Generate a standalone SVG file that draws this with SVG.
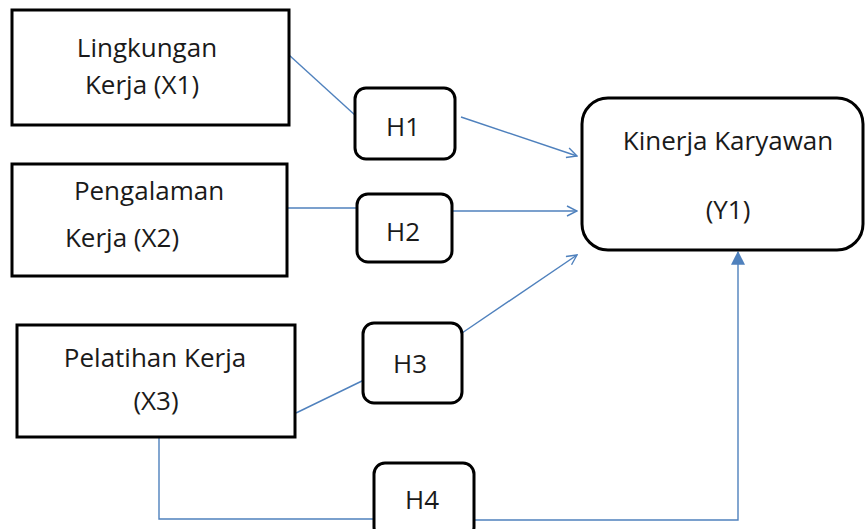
<svg xmlns="http://www.w3.org/2000/svg" width="865" height="529" viewBox="0 0 865 529">
<style>
.box{fill:#fff;stroke:#000;stroke-width:3}
.lbl{font-family:"Open Sans","Liberation Sans",sans-serif;font-size:26px;fill:#1a1a1a;text-anchor:middle}
.con{fill:none;stroke:#4F81BD;stroke-width:1.4}
</style>
<defs>
<marker id="open" viewBox="0 0 12 12" refX="11" refY="6" markerWidth="12" markerHeight="12" markerUnits="userSpaceOnUse" orient="auto">
<path d="M1,1 L11,6 L1,11" fill="none" stroke="#4F81BD" stroke-width="1.4"/>
</marker>
<marker id="fill" viewBox="0 0 12 12" refX="11" refY="6" markerWidth="14" markerHeight="14" markerUnits="userSpaceOnUse" orient="auto">
<path d="M0,0 L12,6 L0,12 Z" fill="#4F81BD"/>
</marker>
</defs>
<g id="connectors">
<line class="con" x1="289" y1="55" x2="356" y2="116"/>
<line class="con" x1="282" y1="208" x2="358" y2="208"/>
<line class="con" x1="296" y1="413" x2="364" y2="380"/>
<polyline class="con" points="159,437 159,519 375,519"/>
<line class="con" x1="461" y1="117" x2="577" y2="156" marker-end="url(#open)"/>
<line class="con" x1="453" y1="211" x2="577" y2="211" marker-end="url(#open)"/>
<line class="con" x1="462" y1="333" x2="577" y2="255" marker-end="url(#open)"/>
<polyline class="con" points="474,520 738,520 738,252" marker-end="url(#fill)"/>
</g>
<g id="x1"><rect class="box" x="12" y="10" width="277" height="115"/>
<text class="lbl" x="147" y="57">Lingkungan</text>
<text class="lbl" x="142" y="94">Kerja (X1)</text></g>
<g id="x2"><rect class="box" x="12" y="164" width="275" height="112"/>
<text class="lbl" x="149" y="200">Pengalaman</text>
<text class="lbl" x="122" y="247">Kerja (X2)</text></g>
<g id="x3"><rect class="box" x="17" y="325" width="278" height="112"/>
<text class="lbl" x="155" y="367">Pelatihan Kerja</text>
<text class="lbl" x="156" y="410">(X3)</text></g>
<g id="h1"><rect class="box" x="355" y="88" width="100" height="71" rx="11"/>
<text class="lbl" x="403" y="136">H1</text></g>
<g id="h2"><rect class="box" x="357" y="194" width="95" height="68" rx="11"/>
<text class="lbl" x="403" y="241">H2</text></g>
<g id="h3"><rect class="box" x="363" y="323" width="99" height="80" rx="11"/>
<text class="lbl" x="410" y="373">H3</text></g>
<g id="h4"><rect class="box" x="374" y="463" width="100" height="75" rx="11"/>
<text class="lbl" x="422" y="509">H4</text></g>
<g id="y1"><rect class="box" x="582" y="98" width="281" height="152" rx="26"/>
<text class="lbl" x="728" y="150">Kinerja Karyawan</text>
<text class="lbl" x="728" y="219">(Y1)</text></g>
</svg>
